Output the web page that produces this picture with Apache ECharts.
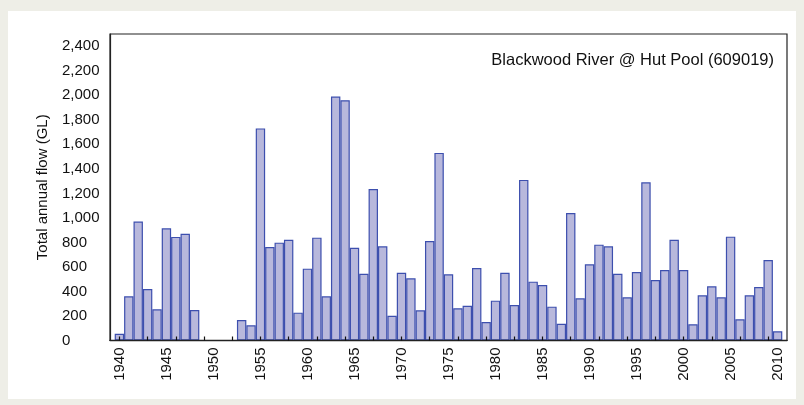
<!DOCTYPE html>
<html>
<head>
<meta charset="utf-8">
<script src="https://cdn.jsdelivr.net/npm/echarts@6/dist/echarts.min.js"></script>
<style>
  html, body { margin: 0; padding: 0; background: #eeeee7; }
  #panel { position: absolute; left: 8px; top: 11px; width: 788px; height: 388px; background: #ffffff; }
  #chart { position: absolute; left: 0; top: 0; width: 804px; height: 405px; }
</style>
</head>
<body>
<div id="panel"></div>
<div id="chart"></div>
<script>
// Annual flow record, Blackwood River @ Hut Pool (609019), 1940-2010 (GL)
const years = [
  1940, 1941, 1942, 1943, 1944, 1945, 1946, 1947, 1948, 1949,
  1950, 1951, 1952, 1953, 1954, 1955, 1956, 1957, 1958, 1959,
  1960, 1961, 1962, 1963, 1964, 1965, 1966, 1967, 1968, 1969,
  1970, 1971, 1972, 1973, 1974, 1975, 1976, 1977, 1978, 1979,
  1980, 1981, 1982, 1983, 1984, 1985, 1986, 1987, 1988, 1989,
  1990, 1991, 1992, 1993, 1994, 1995, 1996, 1997, 1998, 1999,
  2000, 2001, 2002, 2003, 2004, 2005, 2006, 2007, 2008, 2009,
  2010
];
// null = no record for that year
const annualFlow = [
  55, 360, 970, 420, 254, 915, 845, 870, 249, null,
  null, null, null, 167, 124, 1730, 763, 798, 822, 227,
  586, 839, 360, 1990, 1960, 757, 545, 1235, 768, 202,
  553, 507, 246, 812, 1530, 540, 263, 284, 591, 151,
  325, 553, 290, 1310, 480, 453, 276, 137, 1040, 344,
  621, 782, 768, 545, 352, 559, 1290, 493, 575, 822,
  575, 132, 369, 442, 352, 847, 173, 369, 436, 657,
  75
];
const yTicks = [0, 200, 400, 600, 800, 1000, 1200, 1400, 1600, 1800, 2000, 2200, 2400];
const stationLabel = 'Blackwood River @ Hut Pool (609019)';
const yAxisTitle = 'Total annual flow (GL)';

// one empty slot on each side keeps the end bars off the frame
const cats = [String(years[0] - 1)].concat(years.map(String), [String(years[years.length - 1] + 1)]);
const vals = [null].concat(annualFlow, [null]);

const FONT = '"Liberation Sans", Arial, sans-serif';
const GRID = { left: 110, right: 17, top: 34, bottom: 64.5 };
const plotWidth = 804 - GRID.left - GRID.right;
const barW = plotWidth / (cats.length - 1);

const chart = echarts.init(document.getElementById('chart'), null, { renderer: 'canvas' });

chart.setOption({
  backgroundColor: 'transparent',
  animation: false,
  grid: Object.assign({
    show: true, borderColor: '#222', borderWidth: 1.2, backgroundColor: 'transparent'
  }, GRID),
  graphic: [{
    type: 'text',
    right: 30, top: 52,
    style: { text: stationLabel, font: '16.5px ' + FONT, fill: '#111' }
  }],
  xAxis: {
    type: 'category',
    data: cats,
    boundaryGap: false,
    z: 5,
    axisLine: { lineStyle: { color: '#222', width: 1.4 } },
    axisTick: {
      inside: true, length: 4,
      lineStyle: { color: '#111', width: 1.2 },
      interval: (i, v) => Number(v) % 3 === 2 && Number(v) >= years[0] && Number(v) <= years[years.length - 1]
    },
    axisLabel: {
      rotate: 90, margin: 7,
      fontFamily: FONT, fontSize: 15, color: '#111',
      interval: (i, v) => Number(v) % 5 === 0 && Number(v) >= years[0] && Number(v) <= years[years.length - 1]
    },
    splitLine: { show: false }
  },
  yAxis: {
    type: 'value',
    min: yTicks[0], max: 2500, interval: yTicks[1] - yTicks[0],
    name: yAxisTitle,
    nameLocation: 'middle',
    nameGap: 60,
    nameTextStyle: { fontFamily: FONT, fontSize: 15, color: '#111' },
    axisLine: { show: true, lineStyle: { color: '#222', width: 1.2 } },
    axisTick: { show: false },
    splitLine: { show: false },
    axisLabel: {
      align: 'left', margin: 48,
      fontFamily: FONT, fontSize: 15, color: '#111',
      showMaxLabel: false,
      formatter: v => (yTicks.indexOf(v) >= 0 ? v.toLocaleString('en-US') : '')
    }
  },
  series: [{
    type: 'bar',
    data: vals,
    barWidth: barW,
    itemStyle: { color: '#b8b8dc', borderColor: '#3d4fae', borderWidth: 1.2 }
  }]
});
</script>
</body>
</html>
